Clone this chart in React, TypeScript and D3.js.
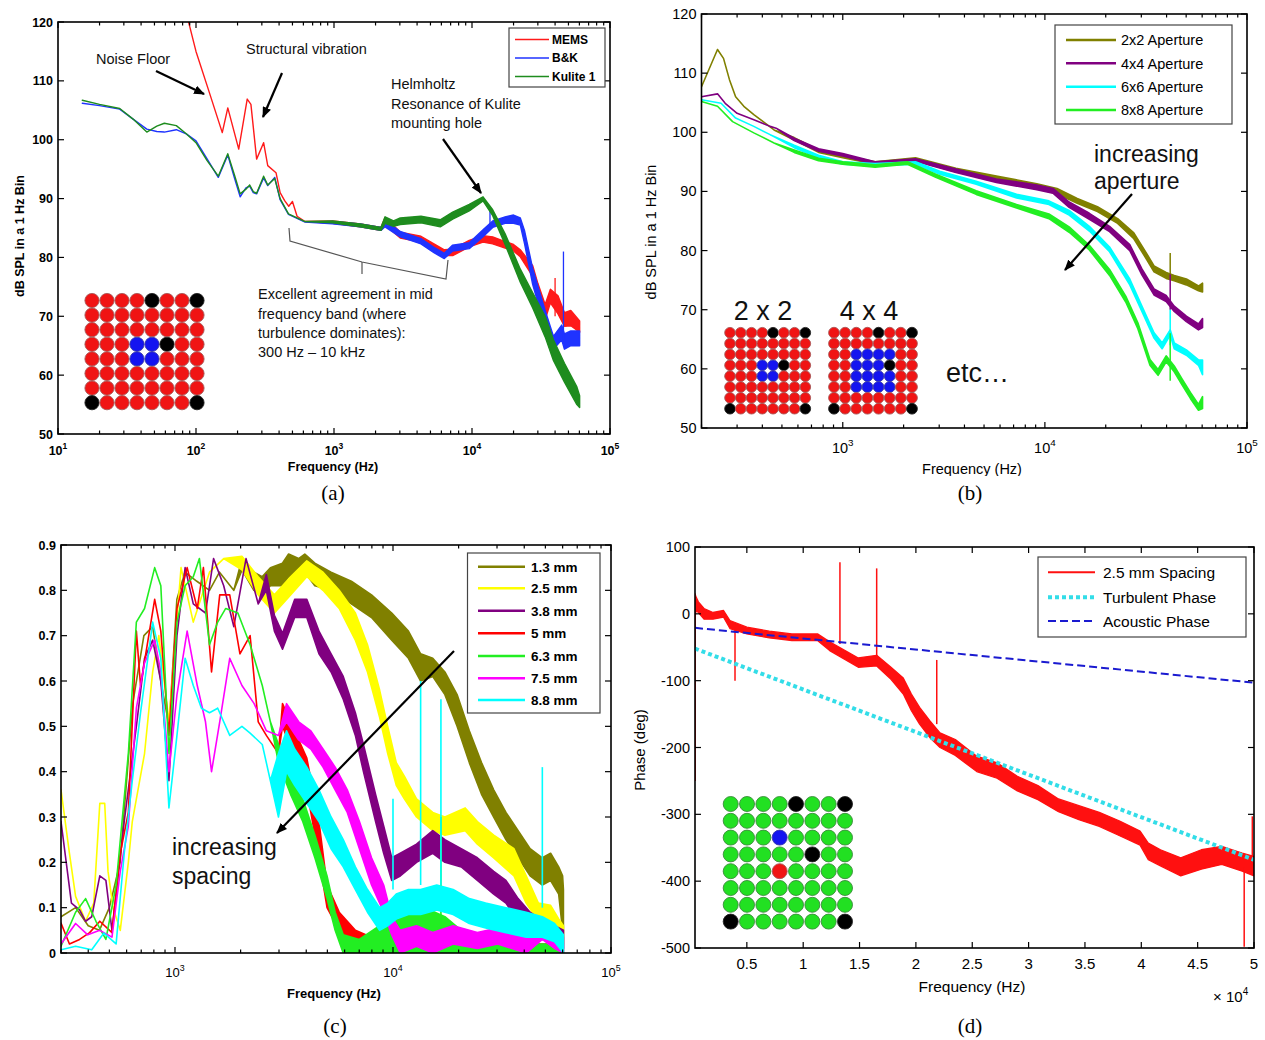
import React from "react";
import * as d3 from "d3";

type Pt = number[];

// ---------------- Panel (a): SPL spectra, [Hz, dB low, dB high] ----------------
const aLabels = ["MEMS", "B&K", "Kulite 1"];
const aColors = ["#ff1a1a", "#1f33ff", "#1e8c1e"];
const aMEMS: Pt[] = [
  [80, 124], [100, 115], [125, 108], [155, 101.2], [170, 105.4], [204, 98.4], [235, 106.9], [250, 106],
  [275, 96.7], [309, 99.5], [331, 95.6], [380, 94.4], [407, 91], [440, 89.6], [470, 88.7], [500, 89.5],
  [540, 87], [617, 86.1], [977, 85.8, 86.2], [1549, 85.2, 85.7], [2188, 84.6, 85.1], [2344, 85.5, 86.8],
  [3020, 83.3, 84.3], [4266, 82.6, 83.6], [5300, 81.3, 82.3], [6300, 80.3, 81.3], [7244, 80.3, 81.4],
  [9550, 81.8, 82.9], [12023, 82.6, 83.7], [14125, 82.3, 83.5], [17378, 81.6, 82.7], [20000, 81.1, 82.2],
  [22387, 80.1, 81.3], [27542, 76.8, 78.6], [30000, 73.3, 75.6], [33884, 69.4, 72], [37000, 72.3, 74.6],
  [42000, 70.4, 73.5], [46774, 68.3, 70.6], [52000, 68.4, 71], [60256, 67.3, 69.2],
];
const aBK: Pt[] = [
  [15, 106.2], [20, 105.8], [28, 105.2], [35, 103.5], [44, 101.8], [52, 101.4], [59, 101.3], [72, 101.7],
  [85, 101], [100, 99.8], [120, 96.8], [145, 93.6], [170, 97.4], [190, 93.5], [209, 90.3], [230, 91.8],
  [245, 92.1], [260, 91], [275, 90.8], [309, 93.5], [331, 92.2], [372, 93.6], [407, 89.8], [468, 87.3],
  [617, 86], [977, 85.7, 86.1], [1549, 85.2, 85.7], [2188, 84.6, 85.1], [2344, 85.2, 86.3], [3020, 83.5, 84.4],
  [4266, 82.3, 83.2], [5300, 80.8, 81.7], [6300, 79.8, 80.7], [7244, 81.1, 82.1], [9550, 81.5, 82.5],
  [12023, 83.5, 84.7], [14125, 85.1, 86.2], [17378, 85.8, 86.9], [20000, 85.8, 87.2], [22387, 85.5, 86.7],
  [24000, 82.4, 84.6], [27542, 75.4, 78.1], [33884, 68, 71], [38905, 64.4, 66.6], [44668, 66, 68.5],
  [46774, 64.4, 67], [52000, 65, 67.5], [60256, 65, 67.5],
];
const aKulite: Pt[] = [
  [15, 106.7], [20, 106], [28, 105.3], [35, 103.5], [44, 101.3], [52, 102.3], [59, 102.8], [72, 102.4],
  [85, 101], [100, 99.5], [120, 96.5], [145, 93.8], [170, 97.6], [190, 94], [209, 90.8], [230, 91.6],
  [245, 92.3], [260, 91.2], [275, 90.9], [309, 93.8], [331, 92.3], [372, 93.4], [407, 90], [468, 87.4],
  [617, 86.1], [977, 85.9, 86.2], [1549, 85.2, 85.7], [2188, 84.6, 85.1], [2344, 85.8, 86.9], [2700, 85.3, 86.2],
  [3020, 85.6, 86.7], [4266, 85.9, 87], [5888, 85.2, 86.4], [7244, 86.5, 87.7], [9550, 87.9, 89],
  [12023, 89.6, 90.3], [14125, 87.1, 88.1], [17378, 82.2, 84], [22387, 75.8, 78], [27542, 71.4, 74],
  [33884, 66.5, 70], [38905, 62.5, 66], [46774, 58.8, 62], [57544, 55, 58], [60256, 54.5, 56.5],
];
const aSpikesMEMS: Pt[] = [[40000, 70, 76.5]];
const aSpikesBK: Pt[] = [[13500, 85, 88], [46000, 66, 81]];
const aYTicks = [50, 60, 70, 80, 90, 100, 110, 120];
const aXExps = [1, 2, 3, 4, 5];

// ---------------- Panel (b): aperture spectra ----------------
const bLabels = ["2x2 Aperture", "4x4 Aperture", "6x6 Aperture", "8x8 Aperture"];
const bColors = ["#808000", "#800080", "#00ffff", "#22ee22"];
const b2x2: Pt[] = [
  [200, 107.7], [240, 114], [257, 112.5], [275, 108.9], [295, 106], [324, 104.4], [363, 103], [457, 100.4],
  [575, 98.7, 99.1], [759, 96.6, 97], [1000, 95.7, 96.1], [1445, 94.6, 95], [2291, 95.2, 95.7],
  [3631, 93.3, 93.9], [5754, 91.9, 92.6], [9120, 90.5, 91.3], [11482, 89.6, 90.5], [14454, 88, 88.8],
  [18197, 86.6, 87.4], [22909, 84.6, 85.4], [27542, 82, 83], [31623, 78.7, 79.7], [34674, 76.4, 77.4],
  [39811, 75.3, 76.3], [43652, 74.9, 75.8], [50119, 74.2, 75.2], [57544, 73.2, 74], [60256, 73, 74.5],
];
const b4x4: Pt[] = [
  [200, 106], [240, 106.5], [262, 104.9], [300, 103.2], [363, 102.1], [437, 101], [468, 100.7],
  [575, 98.6, 99], [759, 96.8, 97.2], [1000, 96, 96.4], [1445, 94.6, 95], [2291, 95.1, 95.5],
  [3631, 93.2, 93.8], [5754, 91.5, 92.1], [9120, 90.3, 91.1], [10965, 89.7, 90.5], [13183, 87.3, 88.2],
  [16596, 85.3, 86.3], [20893, 83.2, 84.1], [26303, 80, 81], [30200, 75.9, 76.9], [34674, 72.5, 73.5],
  [39811, 71.4, 72.4], [43652, 69.7, 70.6], [50119, 68, 68.9], [57544, 66.6, 67.6], [60256, 67, 68.5],
];
const b6x6: Pt[] = [
  [200, 105.5], [250, 104.9], [295, 102.4], [363, 101], [437, 99.6], [575, 97.4, 97.8], [759, 95.7, 96.1],
  [1000, 94.6, 95], [1445, 94.3, 94.7], [2291, 94.6, 95], [3020, 92.9, 93.4], [4571, 91.2, 91.7],
  [7244, 88.9, 89.5], [10471, 87.8, 88.4], [13183, 86, 86.8], [16596, 83.3, 84.1], [20893, 79.8, 80.6],
  [26303, 74.2, 75.2], [30200, 69.7, 70.6], [34674, 65.2, 66.1], [38019, 63.4, 64.4], [41687, 65.7, 66.6],
  [43652, 63.4, 64.4], [50119, 62.3, 63.2], [57544, 60.6, 61.5], [60256, 59, 61.5],
];
const b8x8: Pt[] = [
  [200, 105.2], [240, 104.4], [285, 101.8], [363, 99.9], [457, 98.2], [575, 96.6, 97], [759, 95.2, 95.6],
  [1000, 94.6, 95], [1445, 94.1, 94.5], [2089, 94.6, 95], [2884, 92.4, 92.9], [4571, 89.5, 90.1],
  [7244, 87.2, 87.8], [10471, 85.4, 86.2], [13183, 83.1, 84], [16596, 80.1, 80.9], [20893, 75.8, 76.8],
  [25119, 71.3, 72.3], [28840, 66.8, 67.8], [33113, 60.6, 61.6], [36308, 58.9, 59.9], [39811, 61.2, 62.2],
  [43652, 59.5, 60.5], [47863, 57.2, 58.2], [52481, 55, 56], [57544, 53, 54], [60256, 53.3, 55.3],
];
const bSpikes: Pt[][] = [[[41687, 76, 79.6]], [[41687, 70, 76]], [[41687, 64, 70]], [[41687, 58, 66]]];
const bYTicks = [50, 60, 70, 80, 90, 100, 110, 120];
const bXExps = [3, 4, 5];

// ---------------- Panel (c): coherence vs spacing ----------------
const cLabels = ["1.3 mm", "2.5 mm", "3.8 mm", "5 mm", "6.3 mm", "7.5 mm", "8.8 mm"];
const cColors = ["#808000", "#ffff00", "#800080", "#ff0000", "#22ee22", "#ff00ff", "#00ffff"];
const c13: Pt[] = [
  [300, 0.08], [350, 0.1], [400, 0.06], [450, 0.05], [500, 0.1], [560, 0.2], [640, 0.55], [720, 0.7],
  [790, 0.72], [860, 0.6], [940, 0.5], [1020, 0.78], [1110, 0.84], [1260, 0.82], [1440, 0.8], [1600, 0.84],
  [1860, 0.8], [2030, 0.845, 0.87], [2300, 0.8, 0.84], [2510, 0.79, 0.83], [2740, 0.81, 0.85], [3110, 0.81, 0.86],
  [3320, 0.83, 0.88], [3690, 0.83, 0.87], [3940, 0.84, 0.88], [4380, 0.81, 0.86], [5200, 0.8, 0.84],
  [6440, 0.77, 0.82], [7970, 0.74, 0.79], [9870, 0.69, 0.75], [11770, 0.65, 0.71], [13390, 0.6, 0.66],
  [15220, 0.61, 0.65], [17300, 0.57, 0.62], [19680, 0.5, 0.57], [22390, 0.42, 0.49], [25470, 0.35, 0.42],
  [28970, 0.3, 0.36], [32960, 0.25, 0.31], [37500, 0.21, 0.27], [42560, 0.17, 0.23], [48420, 0.15, 0.21],
  [52840, 0.16, 0.22], [57540, 0.13, 0.19], [59980, 0.05, 0.17], [60500, 0.0, 0.14],
];
const c25: Pt[] = [
  [300, 0.36], [328, 0.22], [350, 0.125], [389, 0.07], [424, 0.11], [452, 0.33], [476, 0.33], [493, 0.18],
  [520, 0.1], [561, 0.05], [611, 0.2], [637, 0.29], [725, 0.44], [790, 0.62], [843, 0.7], [938, 0.51],
  [1066, 0.85], [1213, 0.73], [1440, 0.84], [1673, 0.87], [2028, 0.845, 0.875], [2409, 0.79, 0.83],
  [2858, 0.75, 0.79], [3391, 0.79, 0.83], [4024, 0.83, 0.865], [4775, 0.8, 0.84], [5665, 0.76, 0.8],
  [6720, 0.69, 0.75], [7639, 0.62, 0.68], [8683, 0.52, 0.58], [9457, 0.44, 0.5], [10352, 0.37, 0.42],
  [11270, 0.34, 0.39], [12820, 0.3, 0.34], [15220, 0.27, 0.31], [17300, 0.26, 0.3], [21440, 0.27, 0.32],
  [24380, 0.24, 0.29], [28970, 0.21, 0.26], [35890, 0.17, 0.23], [40830, 0.11, 0.17], [46450, 0.07, 0.11],
  [52840, 0.065, 0.105], [57540, 0.035, 0.075], [60500, 0.02, 0.06],
];
const c38: Pt[] = [
  [300, 0.29], [335, 0.11], [365, 0.095], [389, 0.07], [415, 0.08], [452, 0.17], [482, 0.16], [514, 0.05],
  [585, 0.29], [665, 0.5], [725, 0.65], [790, 0.69], [861, 0.6], [938, 0.38], [1021, 0.7], [1113, 0.85],
  [1213, 0.77], [1380, 0.75], [1503, 0.87], [1673, 0.81], [1861, 0.72], [2118, 0.87], [2409, 0.77],
  [2624, 0.8, 0.835], [2858, 0.71, 0.745], [3113, 0.67, 0.705], [3539, 0.74, 0.78], [4024, 0.74, 0.78],
  [4575, 0.66, 0.71], [5200, 0.62, 0.66], [5912, 0.56, 0.61], [6720, 0.48, 0.53], [7319, 0.4, 0.46],
  [8320, 0.29, 0.35], [9062, 0.22, 0.28], [9870, 0.16, 0.21], [10800, 0.17, 0.22], [12820, 0.2, 0.24],
  [15220, 0.22, 0.27], [17300, 0.2, 0.25], [20560, 0.19, 0.23], [24380, 0.16, 0.21], [28970, 0.13, 0.18],
  [32960, 0.11, 0.16], [37500, 0.07, 0.12], [42560, 0.05, 0.09], [48420, 0.03, 0.07], [55080, 0.02, 0.06],
  [60500, 0.01, 0.05],
];
const c50: Pt[] = [
  [300, 0.066], [328, 0.02], [365, 0.03], [406, 0.045], [452, 0.07], [514, 0.045], [561, 0.22], [611, 0.31],
  [665, 0.71], [695, 0.59], [807, 0.78], [861, 0.71], [938, 0.48], [1021, 0.76], [1137, 0.85], [1265, 0.76],
  [1350, 0.85], [1471, 0.62], [1604, 0.79], [1783, 0.79], [1986, 0.66], [2211, 0.7], [2409, 0.51],
  [2624, 0.48], [2983, 0.44], [3113, 0.5, 0.55], [3539, 0.43, 0.49], [4024, 0.36, 0.43], [4575, 0.21, 0.29],
  [4983, 0.1, 0.15], [5665, 0.05, 0.09], [6720, 0.02, 0.05], [7972, 0.0, 0.035], [9870, 0.0, 0.03],
  [12820, 0.0, 0.03], [20000, 0.0, 0.02], [40000, 0.0, 0.02], [60000, 0.0, 0.02],
];
const c63: Pt[] = [
  [300, 0.015], [350, 0.09], [389, 0.12], [434, 0.07], [482, 0.03], [537, 0.15], [611, 0.44], [665, 0.73],
  [725, 0.76], [807, 0.85], [861, 0.81], [938, 0.44], [1021, 0.73], [1113, 0.81], [1213, 0.83], [1294, 0.87],
  [1440, 0.68], [1570, 0.73], [1709, 0.76], [1943, 0.75], [2211, 0.68], [2514, 0.59], [2739, 0.51],
  [2983, 0.42, 0.46], [3391, 0.35, 0.39], [3855, 0.29, 0.34], [4383, 0.21, 0.26], [4983, 0.12, 0.17],
  [5428, 0.05, 0.09], [5912, 0.0, 0.04], [7000, 0.0, 0.03], [10000, 0.0, 0.08], [14000, 0.0, 0.1],
  [17300, 0.0, 0.08], [22390, 0.0, 0.035], [30000, 0.0, 0.02], [60000, 0.0, 0.02],
];
const c75: Pt[] = [
  [300, 0.02], [350, 0.065], [398, 0.04], [452, 0.05], [514, 0.035], [561, 0.18], [611, 0.28], [665, 0.54],
  [725, 0.64], [807, 0.69], [861, 0.62], [938, 0.4], [1021, 0.57], [1137, 0.71], [1265, 0.59], [1380, 0.51],
  [1471, 0.4], [1604, 0.51], [1783, 0.65], [2028, 0.59], [2307, 0.55], [2624, 0.49], [2983, 0.48],
  [3249, 0.51, 0.55], [3694, 0.47, 0.51], [4200, 0.45, 0.49], [4775, 0.41, 0.45], [5428, 0.36, 0.41],
  [6170, 0.31, 0.36], [7014, 0.23, 0.29], [7972, 0.15, 0.21], [9062, 0.09, 0.15], [9870, 0.04, 0.08],
  [10800, 0.0, 0.05], [12820, 0.015, 0.06], [15220, 0.0, 0.045], [18870, 0.02, 0.06], [24380, 0.01, 0.045],
  [30200, 0.02, 0.055], [40830, 0.0, 0.045], [48420, 0.03, 0.07], [55080, 0.01, 0.045], [60500, 0.0, 0.035],
];
const c88: Pt[] = [
  [300, 0.007], [350, 0.015], [415, 0.007], [472, 0.044], [537, 0.02], [585, 0.22], [637, 0.38], [695, 0.53],
  [790, 0.73], [861, 0.65], [938, 0.32], [1021, 0.48], [1113, 0.65], [1213, 0.59], [1322, 0.54], [1440, 0.53],
  [1570, 0.54], [1783, 0.48], [2028, 0.5], [2211, 0.485], [2514, 0.46], [2739, 0.38], [2983, 0.3, 0.44],
  [3249, 0.4, 0.49], [3539, 0.37, 0.45], [4024, 0.33, 0.41], [4575, 0.29, 0.36], [5200, 0.23, 0.3],
  [5912, 0.19, 0.25], [6720, 0.14, 0.19], [7639, 0.09, 0.14], [8683, 0.05, 0.1], [9457, 0.06, 0.11],
  [10352, 0.075, 0.13], [11770, 0.085, 0.14], [13390, 0.085, 0.14], [15880, 0.095, 0.15], [18870, 0.085, 0.14],
  [22390, 0.065, 0.12], [26600, 0.055, 0.11], [32960, 0.045, 0.1], [40830, 0.035, 0.09], [48420, 0.035, 0.08],
  [55080, 0.025, 0.065], [60500, 0.0, 0.04],
];
const cSpikes: Pt[][] = [[], [], [], [], [[16590, 0.05, 0.3]], [], [[10000, 0.14, 0.34], [13390, 0.15, 0.6], [16590, 0.15, 0.56], [48420, 0.1, 0.41]]];
const cYTicks = [0, 0.1, 0.2, 0.3, 0.4, 0.5, 0.6, 0.7, 0.8, 0.9];
const cXExps = [3, 4, 5];

// ---------------- Panel (d): phase ----------------
const dLabels = ["2.5 mm Spacing", "Turbulent Phase", "Acoustic Phase"];
const dRed: Pt[] = [
  [400, -5, 30], [500, 5, 25], [700, 2, 18], [1200, -8, 8], [2000, -8, 2], [2935, -5, 5], [3500, -22, -10],
  [5000, -30, -20], [7000, -36, -26], [9000, -40, -30], [11270, -40, -30], [12350, -55, -42],
  [14890, -80, -66], [16520, -78, -62], [17790, -98, -80], [18880, -120, -96], [19600, -145, -120],
  [20330, -165, -140], [21230, -185, -160], [22140, -200, -178], [23500, -212, -188], [25400, -236, -213],
  [27200, -246, -223], [29000, -265, -243], [30830, -278, -257], [32650, -296, -277], [34460, -308, -287],
  [36270, -318, -297], [38080, -332, -310], [39890, -346, -325], [40620, -368, -343], [41700, -377, -353],
  [43500, -392, -365], [45330, -382, -353], [47140, -375, -348], [48950, -385, -358], [50000, -392, -363],
];
const dRedSpikes: Pt[] = [[420, -250, 30], [3950, -100, -20], [13260, -45, 77], [16520, -75, 68], [21850, -165, -69], [49130, -380, -498], [49850, -370, -303]];
const dTurbulent: Pt[] = [[400, -52], [50000, -368]];
const dAcoustic: Pt[] = [[400, -21], [50000, -103]];
const dYTicks = [-500, -400, -300, -200, -100, 0, 100];
const dXTicks = [5000, 10000, 15000, 20000, 25000, 30000, 35000, 40000, 45000, 50000];
const dXTickLabels = ["0.5", "1", "1.5", "2", "2.5", "3", "3.5", "4", "4.5", "5"];

// ---------------- Sensor array maps ----------------
const gridA = ["RRRRKRRK", "RRRRRRRR", "RRRRRRRR", "RRRBBKRR", "RRRBBRRR", "RRRRRRRR", "RRRRRRRR", "KRRRRRRK"];
const grid4 = ["RRRRKRRK", "RRRRRRRR", "RRBBBBRR", "RRBBBKRR", "RRBBBBRR", "RRBBBBRR", "RRRRRRRR", "KRRRRRRK"];
const gridD = ["GGGGKGGK", "GGGGGGGG", "GGGBGGGG", "GGGGGKGG", "GGGRGGGG", "GGGGGGGG", "GGGGGGGG", "KGGGGGGK"];

const FONT = "'Liberation Sans', Arial, Helvetica, sans-serif";
const SERIF = "'Liberation Serif', 'Times New Roman', serif";

function logTicks(lo: number, hi: number) {
  const out: { v: number; major: boolean }[] = [];
  for (let e = Math.floor(Math.log10(lo)); e <= Math.ceil(Math.log10(hi)); e++) {
    for (let m = 1; m <= 9; m++) {
      const v = m * Math.pow(10, e);
      if (v >= lo * 0.999 && v <= hi * 1.001) out.push({ v, major: m === 1 });
    }
  }
  return out;
}

function Series({ data, x, y, color, w, clip }: any) {
  const gen = d3
    .area<Pt>()
    .x((d) => x(d[0]))
    .y0((d) => y(d[1]))
    .y1((d) => y(d.length > 2 ? d[2] : d[1]));
  return (
    <path d={gen(data) || ""} fill={color} stroke={color} strokeWidth={w} strokeLinejoin="round" clipPath={`url(#${clip})`} />
  );
}

function Spikes({ data, x, y, color, w, clip }: any) {
  return (
    <g clipPath={`url(#${clip})`}>
      {data.map((s: Pt, i: number) => (
        <line key={i} x1={x(s[0])} x2={x(s[0])} y1={y(s[1])} y2={y(s[2])} stroke={color} strokeWidth={w} />
      ))}
    </g>
  );
}

function Frame({ L, R, T, B, xt, yt, x, y }: any) {
  return (
    <g stroke="#000" strokeWidth={1.2}>
      {xt.map((t: any, i: number) => {
        const px = x(t.v);
        const len = t.major ? 6 : 3.5;
        return (
          <g key={"x" + i}>
            <line x1={px} x2={px} y1={B} y2={B - len} />
            <line x1={px} x2={px} y1={T} y2={T + len} />
          </g>
        );
      })}
      {yt.map((v: number, i: number) => {
        const py = y(v);
        return (
          <g key={"y" + i}>
            <line x1={L} x2={L + 6} y1={py} y2={py} />
            <line x1={R} x2={R - 6} y1={py} y2={py} />
          </g>
        );
      })}
      <rect x={L} y={T} width={R - L} height={B - T} fill="none" strokeWidth={1.6} />
    </g>
  );
}

function Pow({ x, y, e, size, weight }: any) {
  return (
    <text x={x} y={y} textAnchor="middle" fontSize={size} fontWeight={weight} fontFamily={FONT}>
      10
      <tspan dy={-size * 0.45} fontSize={size * 0.68}>
        {e}
      </tspan>
    </text>
  );
}

function DotGrid({ map, x0, y0, dx, dy, r }: any) {
  const fills: any = { R: "#f01414", B: "#1414f0", K: "#000000", G: "#22e022" };
  const strokes: any = { R: "#a85858", B: "#3a3aa8", K: "#222", G: "#3a8a3a" };
  return (
    <g>
      {map.map((row: string, j: number) =>
        row.split("").map((c, i) => (
          <circle key={j + "-" + i} cx={x0 + i * dx} cy={y0 + j * dy} r={r} fill={fills[c]} stroke={strokes[c]} strokeWidth={0.9} />
        ))
      )}
    </g>
  );
}

function Legend({ box, x1, x2, tx, rows, items, size, weight }: any) {
  return (
    <g>
      <rect x={box[0]} y={box[1]} width={box[2]} height={box[3]} fill="#fff" stroke="#444" strokeWidth={1.2} />
      {items.map((it: any, i: number) => (
        <g key={i}>
          <line x1={x1} x2={x2} y1={rows[i]} y2={rows[i]} stroke={it.color} strokeWidth={it.w} strokeDasharray={it.dash || undefined} />
          <text x={tx} y={rows[i] + size * 0.36} fontSize={size} fontWeight={weight} fontFamily={FONT}>
            {it.label}
          </text>
        </g>
      ))}
    </g>
  );
}

export default function App() {
  // ---------- scales ----------
  const A = { L: 58, R: 610, T: 22, B: 434 };
  const ax = d3.scaleLog().domain([10, 1e5]).range([A.L, A.R]);
  const ay = d3.scaleLinear().domain([50, 120]).range([A.B, A.T]);

  const Bp = { L: 701.5, R: 1247, T: 14, B: 428 };
  const bx = d3.scaleLog().domain([200, 1e5]).range([Bp.L, Bp.R]);
  const by = d3.scaleLinear().domain([50, 120]).range([Bp.B, Bp.T]);

  const C = { L: 61, R: 611, T: 545, B: 953 };
  const cx = d3.scaleLog().domain([300, 1e5]).range([C.L, C.R]);
  const cy = d3.scaleLinear().domain([0, 0.9]).range([C.B, C.T]);

  const D = { L: 695, R: 1254, T: 547, B: 948 };
  const dx = d3.scaleLinear().domain([400, 50000]).range([D.L, D.R]);
  const dy = d3.scaleLinear().domain([-500, 100]).range([D.B, D.T]);

  const aSeries = [aMEMS, aBK, aKulite];
  const aSp = [aSpikesMEMS, aSpikesBK, []];
  const bSeries = [b2x2, b4x4, b6x6, b8x8];
  const cSeries = [c13, c25, c38, c50, c63, c75, c88];

  return (
    <svg width={1265} height={1040} style={{ position: "absolute", left: 0, top: 0, background: "#fff" }} fontFamily={FONT}>
      <defs>
        <clipPath id="clipA"><rect x={A.L} y={A.T} width={A.R - A.L} height={A.B - A.T} /></clipPath>
        <clipPath id="clipB"><rect x={Bp.L} y={Bp.T} width={Bp.R - Bp.L} height={Bp.B - Bp.T} /></clipPath>
        <clipPath id="clipC"><rect x={C.L} y={C.T} width={C.R - C.L} height={C.B - C.T} /></clipPath>
        <clipPath id="clipD"><rect x={D.L} y={D.T} width={D.R - D.L} height={D.B - D.T} /></clipPath>
        <clipPath id="clipBLabel"><rect x={850} y={440} width={250} height={36} /></clipPath>
        <marker id="arr" viewBox="0 0 10 8" refX="9" refY="4" markerWidth="5" markerHeight="4" orient="auto">
          <path d="M0,0 L10,4 L0,8 z" fill="#000" />
        </marker>
      </defs>
      <rect x={0} y={0} width={1265} height={1040} fill="#fff" />

      {/* ================= Panel (a) ================= */}
      {aSeries.map((s, i) => (
        <g key={"a" + i}>
          <Series data={s} x={ax} y={ay} color={aColors[i]} w={1.4} clip="clipA" />
          <Spikes data={aSp[i]} x={ax} y={ay} color={aColors[i]} w={1.3} clip="clipA" />
        </g>
      ))}
      <Frame L={A.L} R={A.R} T={A.T} B={A.B} xt={logTicks(10, 1e5)} yt={aYTicks} x={ax} y={ay} />
      {aYTicks.map((v) => (
        <text key={"ay" + v} x={A.L - 5} y={ay(v) + 4.5} textAnchor="end" fontSize={12.5} fontWeight="bold">{v}</text>
      ))}
      {aXExps.map((e) => (
        <Pow key={"ax" + e} x={ax(Math.pow(10, e))} y={455} e={e} size={12.5} weight="bold" />
      ))}
      <text x={333} y={471} textAnchor="middle" fontSize={12.5} fontWeight="bold">Frequency (Hz)</text>
      <text transform="translate(24,236) rotate(-90)" textAnchor="middle" fontSize={12.5} fontWeight="bold">dB SPL in a 1 Hz Bin</text>
      <Legend
        box={[509, 28, 96, 59]} x1={515} x2={549} tx={552} rows={[39.5, 58, 76.5]} size={12} weight="bold"
        items={aLabels.map((l, i) => ({ label: l, color: aColors[i], w: 1.5 }))}
      />
      <DotGrid map={gridA} x0={92} y0={300.5} dx={15} dy={14.6} r={7.1} />
      <g fontSize={14.5} fill="#111">
        <text x={96} y={64}>Noise Floor</text>
        <text x={246} y={54}>Structural vibration</text>
        <text x={391} y={89}>Helmholtz</text>
        <text x={391} y={109}>Resonance of Kulite</text>
        <text x={391} y={128}>mounting hole</text>
        <text x={258} y={299}>Excellent agreement in mid</text>
        <text x={258} y={319}>frequency band (where</text>
        <text x={258} y={338}>turbulence dominates):</text>
        <text x={258} y={357}>300 Hz – 10 kHz</text>
      </g>
      <g stroke="#000" strokeWidth={2.2} markerEnd="url(#arr)">
        <line x1={156} y1={71} x2={204} y2={94} />
        <line x1={282} y1={73} x2={263} y2={117} />
        <line x1={443} y1={139} x2={481} y2={193} />
      </g>
      <polyline points="289,228 290,241 362,262 446,279 448,260" fill="none" stroke="#555" strokeWidth={1.2} />
      <line x1={362} y1={262} x2={362} y2={274} stroke="#555" strokeWidth={1.2} />
      <text x={333} y={500} textAnchor="middle" fontSize={21} fontFamily={SERIF}>(a)</text>

      {/* ================= Panel (b) ================= */}
      {bSeries.map((s, i) => (
        <g key={"b" + i}>
          <Series data={s} x={bx} y={by} color={bColors[i]} w={1.6} clip="clipB" />
          <Spikes data={bSpikes[i]} x={bx} y={by} color={bColors[i]} w={1.5} clip="clipB" />
        </g>
      ))}
      <Frame L={Bp.L} R={Bp.R} T={Bp.T} B={Bp.B} xt={logTicks(200, 1e5)} yt={bYTicks} x={bx} y={by} />
      {bYTicks.map((v) => (
        <text key={"by" + v} x={Bp.L - 5} y={by(v) + 5} textAnchor="end" fontSize={14.5}>{v}</text>
      ))}
      {bXExps.map((e) => (
        <Pow key={"bx" + e} x={bx(Math.pow(10, e))} y={453} e={e} size={14.5} weight="normal" />
      ))}
      <text x={972} y={474} textAnchor="middle" fontSize={14.5} clipPath="url(#clipBLabel)">Frequency (Hz)</text>
      <text transform="translate(656,232) rotate(-90)" textAnchor="middle" fontSize={14.5}>dB SPL in a 1 Hz Bin</text>
      <Legend
        box={[1055, 25, 177, 99]} x1={1066} x2={1116} tx={1121} rows={[40, 63.3, 86.7, 110]} size={14.5} weight="normal"
        items={bLabels.map((l, i) => ({ label: l, color: bColors[i], w: 2.5 }))}
      />
      <DotGrid map={gridA} x0={730} y0={332.7} dx={10.76} dy={10.86} r={5.3} />
      <DotGrid map={grid4} x0={834} y0={332.7} dx={11.14} dy={10.86} r={5.4} />
      <g fontSize={27} fill="#111">
        <text x={763} y={320} textAnchor="middle">2 x 2</text>
        <text x={869} y={320} textAnchor="middle">4 x 4</text>
        <text x={946} y={382}>etc…</text>
      </g>
      <g fontSize={23} fill="#111">
        <text x={1094} y={162}>increasing</text>
        <text x={1094} y={189}>aperture</text>
      </g>
      <line x1={1132} y1={194} x2={1065} y2={270} stroke="#000" strokeWidth={2.2} markerEnd="url(#arr)" />
      <text x={970} y={500} textAnchor="middle" fontSize={21} fontFamily={SERIF}>(b)</text>

      {/* ================= Panel (c) ================= */}
      {cSeries.map((s, i) => (
        <g key={"c" + i}>
          <Series data={s} x={cx} y={cy} color={cColors[i]} w={1.6} clip="clipC" />
          <Spikes data={cSpikes[i]} x={cx} y={cy} color={cColors[i]} w={1.6} clip="clipC" />
        </g>
      ))}
      <Frame L={C.L} R={C.R} T={C.T} B={C.B} xt={logTicks(300, 1e5)} yt={cYTicks} x={cx} y={cy} />
      {cYTicks.map((v) => (
        <text key={"cy" + v} x={C.L - 5} y={cy(v) + 4.5} textAnchor="end" fontSize={12.5} fontWeight="bold">
          {v === 0 ? "0" : v.toFixed(1)}
        </text>
      ))}
      {cXExps.map((e) => (
        <Pow key={"cx" + e} x={cx(Math.pow(10, e))} y={977} e={e} size={13} weight="normal" />
      ))}
      <text x={334} y={998} textAnchor="middle" fontSize={13} fontWeight="bold">Frequency (Hz)</text>
      <Legend
        box={[467.5, 553, 132.5, 160]} x1={478} x2={525} tx={531} rows={[566.7, 588.3, 610.7, 633.3, 656, 678.3, 700]}
        size={13.5} weight="bold" items={cLabels.map((l, i) => ({ label: l, color: cColors[i], w: 2.5 }))}
      />
      <g fontSize={23} fill="#111">
        <text x={172} y={855}>increasing</text>
        <text x={172} y={884}>spacing</text>
      </g>
      <line x1={454} y1={651} x2={277} y2={833} stroke="#000" strokeWidth={2.2} markerEnd="url(#arr)" />
      <text x={335} y={1033} textAnchor="middle" fontSize={21} fontFamily={SERIF}>(c)</text>

      {/* ================= Panel (d) ================= */}
      <Series data={dRed} x={dx} y={dy} color="#ff1010" w={1.3} clip="clipD" />
      <Spikes data={dRedSpikes} x={dx} y={dy} color="#ff1010" w={1.5} clip="clipD" />
      <path
        d={d3.line<Pt>().x((p) => dx(p[0])).y((p) => dy(p[1]))(dTurbulent) || ""}
        fill="none" stroke="#33dde8" strokeWidth={4} strokeDasharray="4 3" clipPath="url(#clipD)"
      />
      <path
        d={d3.line<Pt>().x((p) => dx(p[0])).y((p) => dy(p[1]))(dAcoustic) || ""}
        fill="none" stroke="#1a1ad0" strokeWidth={2} strokeDasharray="8 4" clipPath="url(#clipD)"
      />
      <Frame L={D.L} R={D.R} T={D.T} B={D.B} xt={dXTicks.map((v) => ({ v, major: true }))} yt={dYTicks} x={dx} y={dy} />
      {dYTicks.map((v) => (
        <text key={"dy" + v} x={D.L - 5} y={dy(v) + 5} textAnchor="end" fontSize={14.5}>{v}</text>
      ))}
      {dXTicks.map((v, i) => (
        <text key={"dx" + v} x={dx(v)} y={969} textAnchor="middle" fontSize={15}>{dXTickLabels[i]}</text>
      ))}
      <text x={972} y={992} textAnchor="middle" fontSize={15.5}>Frequency (Hz)</text>
      <text x={1213} y={1002} fontSize={15}>
        × 10<tspan dy={-7} fontSize={10}>4</tspan>
      </text>
      <text transform="translate(645,750) rotate(-90)" textAnchor="middle" fontSize={15}>Phase (deg)</text>
      <Legend
        box={[1038, 557, 208, 80]} x1={1048} x2={1095} tx={1103} rows={[572.3, 597.3, 621]} size={15.5} weight="normal"
        items={[
          { label: dLabels[0], color: "#ff1010", w: 2 },
          { label: dLabels[1], color: "#33dde8", w: 4, dash: "4 3" },
          { label: dLabels[2], color: "#1a1ad0", w: 2, dash: "8 4" },
        ]}
      />
      <DotGrid map={gridD} x0={730.7} y0={804} dx={16.33} dy={16.8} r={7.5} />
      <text x={970} y={1033} textAnchor="middle" fontSize={21} fontFamily={SERIF}>(d)</text>
    </svg>
  );
}
